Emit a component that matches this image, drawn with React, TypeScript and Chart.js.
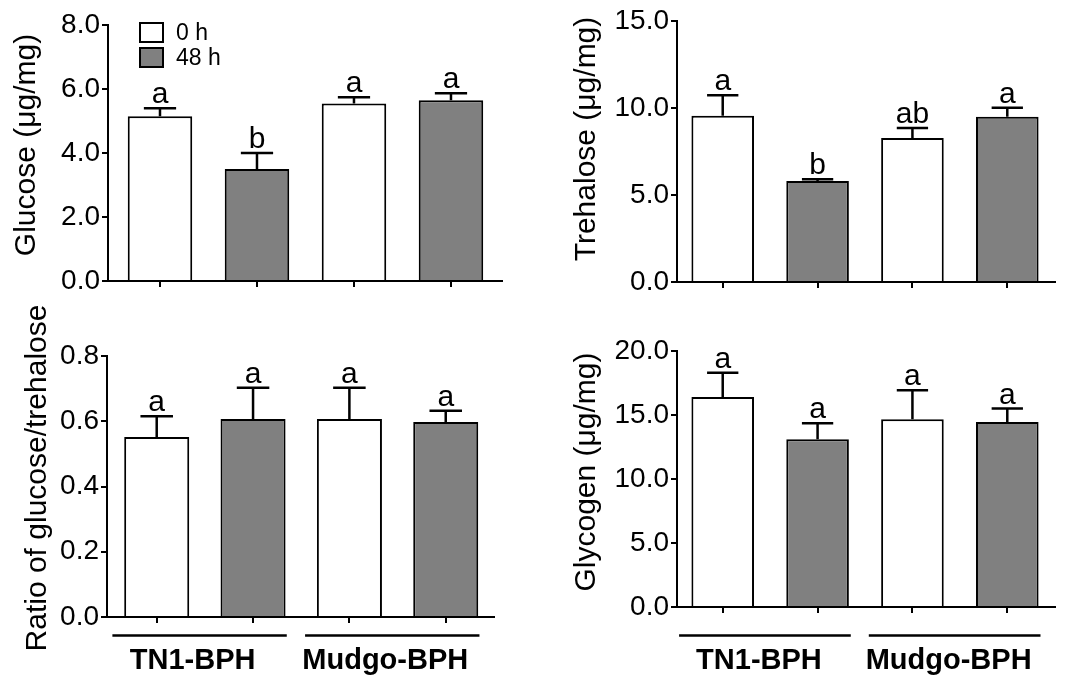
import React, { useEffect, useRef } from 'react';
import { Chart, registerables } from 'chart.js';

Chart.register(...registerables);

// ---------- data ----------
const categories = ['TN1-BPH 0 h', 'TN1-BPH 48 h', 'Mudgo-BPH 0 h', 'Mudgo-BPH 48 h'];
const timeLabels = ['0 h', '48 h'];
const groupLabels = ['TN1-BPH', 'Mudgo-BPH'];

const glucoseMean = [5.15, 3.5, 5.55, 5.65];
const glucoseErr = [0.25, 0.5, 0.19, 0.22];
const glucoseLetters = ['a', 'b', 'a', 'a'];

const trehaloseMean = [9.56, 5.8, 8.28, 9.5];
const trehaloseErr = [1.17, 0.1, 0.57, 0.52];
const trehaloseLetters = ['a', 'b', 'ab', 'a'];

const ratioMean = [0.552, 0.607, 0.607, 0.598];
const ratioErr = [0.063, 0.096, 0.096, 0.034];
const ratioLetters = ['a', 'a', 'a', 'a'];

const glycogenMean = [16.4, 13.1, 14.66, 14.45];
const glycogenErr = [1.9, 1.25, 2.27, 1.05];
const glycogenLetters = ['a', 'a', 'a', 'a'];

// ---------- styles ----------
const FAMILY = "'Liberation Sans', Arial, Helvetica, sans-serif";
const W = 1072;
const H = 678;
const WHITE = '#ffffff';
const GRAY = '#808080';
const barColors = [WHITE, GRAY, WHITE, GRAY];
const TITLE_SIZE = 30;
const TICK_SIZE = 28;

type PanelCfg = {
  title: string;
  mean: number[];
  err: number[];
  letters: string[];
  max: number;
  step: number;
  area: { left: number; right: number; top: number; bottom: number };
  xRange: [number, number];
  barPct: number;
  titleX: number;
  titleY: number;
  legend?: { x: number; y: number; w: number; h: number; gap: number; textX: number };
  groups?: { y: number; labelY: number; labelShift: number };
};

const panels: PanelCfg[] = [
  {
    title: 'Glucose (μg/mg)', mean: glucoseMean, err: glucoseErr, letters: glucoseLetters,
    max: 8, step: 2,
    area: { left: 108, right: 502, top: 25, bottom: 281 }, xRange: [-0.536, 3.526], barPct: 0.665,
    titleX: 26.5, titleY: 145,
    legend: { x: 140, y: 23, w: 23, h: 19, gap: 25, textX: 176 },
  },
  {
    title: 'Trehalose (μg/mg)', mean: trehaloseMean, err: trehaloseErr, letters: trehaloseLetters,
    max: 15, step: 5,
    area: { left: 677, right: 1055, top: 21, bottom: 282 }, xRange: [-0.482, 3.503], barPct: 0.66,
    titleX: 586.5, titleY: 139,
  },
  {
    title: 'Ratio of glucose/trehalose', mean: ratioMean, err: ratioErr, letters: ratioLetters,
    max: 0.8, step: 0.2,
    area: { left: 107, right: 494, top: 356, bottom: 617 }, xRange: [-0.516, 3.501], barPct: 0.675,
    titleX: 37.5, titleY: 478,
    groups: { y: 635.5, labelY: 669, labelShift: -7 },
  },
  {
    title: 'Glycogen (μg/mg)', mean: glycogenMean, err: glycogenErr, letters: glycogenLetters,
    max: 20, step: 5,
    area: { left: 677, right: 1055, top: 351, bottom: 607 }, xRange: [-0.482, 3.503], barPct: 0.66,
    titleX: 586.5, titleY: 472,
    groups: { y: 635.5, labelY: 669, labelShift: -6 },
  },
];

function overlayPlugin(cfg: PanelCfg) {
  return {
    id: 'overlay',
    afterDatasetsDraw(chart: any) {
      const ctx = chart.ctx as CanvasRenderingContext2D;
      const meta = chart.getDatasetMeta(0);
      const ys = chart.scales.y;
      const xs = chart.scales.x;
      const ca = chart.chartArea;
      ctx.save();
      // x axis line redrawn over the bar bases
      ctx.strokeStyle = '#000';
      ctx.lineWidth = 2;
      ctx.beginPath();
      ctx.moveTo(ca.left - 1, ca.bottom);
      ctx.lineTo(ca.right, ca.bottom);
      ctx.stroke();
      // error bars + letters
      meta.data.forEach((bar: any, i: number) => {
        const { x, width } = bar.getProps(['x', 'width'], true);
        const top = ys.getPixelForValue(cfg.mean[i]);
        const eTop = ys.getPixelForValue(cfg.mean[i] + cfg.err[i]);
        ctx.strokeStyle = '#000';
        ctx.lineWidth = 2.5;
        ctx.beginPath();
        ctx.moveTo(x, top);
        ctx.lineTo(x, eTop);
        ctx.moveTo(x - width / 4, eTop);
        ctx.lineTo(x + width / 4, eTop);
        ctx.stroke();
        ctx.fillStyle = '#000';
        ctx.font = `30px ${FAMILY}`;
        ctx.textAlign = 'center';
        ctx.textBaseline = 'alphabetic';
        ctx.fillText(cfg.letters[i], x, eTop - 5);
      });
      // y axis title
      ctx.save();
      ctx.translate(cfg.titleX, cfg.titleY);
      ctx.rotate(-Math.PI / 2);
      ctx.fillStyle = '#000';
      ctx.font = `${TITLE_SIZE}px ${FAMILY}`;
      ctx.textAlign = 'center';
      ctx.textBaseline = 'middle';
      ctx.fillText(cfg.title, 0, 0);
      ctx.restore();
      // legend
      if (cfg.legend) {
        const L = cfg.legend;
        timeLabels.forEach((lab, i) => {
          const y = L.y + i * L.gap;
          ctx.fillStyle = i === 0 ? WHITE : GRAY;
          ctx.fillRect(L.x, y, L.w, L.h);
          ctx.strokeStyle = '#000';
          ctx.lineWidth = 2;
          ctx.strokeRect(L.x, y, L.w, L.h);
          ctx.fillStyle = '#000';
          ctx.font = `23px ${FAMILY}`;
          ctx.textAlign = 'left';
          ctx.textBaseline = 'middle';
          ctx.fillText(lab, L.textX, y + L.h / 2 + 1);
        });
      }
      // group lines + labels
      if (cfg.groups) {
        const G = cfg.groups;
        groupLabels.forEach((lab, g) => {
          const c0 = xs.getPixelForValue(2 * g);
          const c1 = xs.getPixelForValue(2 * g + 1);
          const sp = c1 - c0;
          const x0 = c0 - 0.46 * sp;
          const x1 = c1 + 0.35 * sp;
          ctx.strokeStyle = '#000';
          ctx.lineWidth = 2.5;
          ctx.beginPath();
          ctx.moveTo(x0, G.y);
          ctx.lineTo(x1, G.y);
          ctx.stroke();
          ctx.fillStyle = '#000';
          ctx.font = `bold 29px ${FAMILY}`;
          ctx.textAlign = 'center';
          ctx.textBaseline = 'alphabetic';
          ctx.fillText(lab, (x0 + x1) / 2 + G.labelShift, G.labelY);
        });
      }
      ctx.restore();
    },
  };
}

function Panel({ cfg }: { cfg: PanelCfg }) {
  const ref = useRef<HTMLCanvasElement>(null);
  useEffect(() => {
    if (!ref.current) return;
    const a = cfg.area;
    const padLeft = 4;
    const yWidth = a.left - padLeft;
    const xHeight = 40;
    const gridOpts = {
      display: true,
      offset: false,
      drawOnChartArea: false,
      drawTicks: true,
      tickLength: 6,
      color: '#000',
      lineWidth: 2,
    };
    const chart = new Chart(ref.current, {
      type: 'bar',
      data: {
        labels: categories,
        datasets: [
          {
            label: cfg.title,
            data: cfg.mean.map((v, i) => ({ x: i, y: v })),
            backgroundColor: barColors,
            borderColor: '#000',
            borderWidth: 2,
            borderSkipped: 'start',
            barPercentage: cfg.barPct,
            categoryPercentage: 1,
          } as any,
        ],
      },
      options: {
        responsive: false,
        maintainAspectRatio: false,
        animation: false,
        devicePixelRatio: 1,
        events: [],
        layout: {
          padding: {
            left: padLeft,
            top: a.top,
            right: W - a.right,
            bottom: H - a.bottom - xHeight,
          },
        },
        plugins: { legend: { display: false }, tooltip: { enabled: false } },
        scales: {
          x: {
            type: 'linear',
            min: cfg.xRange[0],
            max: cfg.xRange[1],
            offset: false,
            grid: gridOpts as any,
            border: { display: true, color: '#000', width: 2 },
            ticks: { display: false, stepSize: 1, includeBounds: false },
            afterFit: (s: any) => {
              s.height = xHeight;
            },
          },
          y: {
            min: 0,
            max: cfg.max,
            grid: gridOpts as any,
            border: { display: true, color: '#000', width: 2 },
            ticks: {
              stepSize: cfg.step,
              color: '#000',
              padding: 2,
              font: { family: FAMILY, size: TICK_SIZE },
              callback: (v: any) => Number(v).toFixed(1),
            },
            title: { display: false },
            afterFit: (s: any) => {
              s.width = yWidth;
            },
          },
        },
      } as any,
      plugins: [overlayPlugin(cfg)],
    });
    return () => chart.destroy();
  }, [cfg]);
  return (
    <canvas
      ref={ref}
      width={W}
      height={H}
      style={{ position: 'absolute', left: 0, top: 0, width: W, height: H }}
    />
  );
}

export default function App() {
  return (
    <div
      style={{
        position: 'absolute',
        left: 0,
        top: 0,
        width: W,
        height: H,
        background: '#ffffff',
        overflow: 'hidden',
      }}
    >
      {panels.map((p, i) => (
        <Panel key={i} cfg={p} />
      ))}
    </div>
  );
}
